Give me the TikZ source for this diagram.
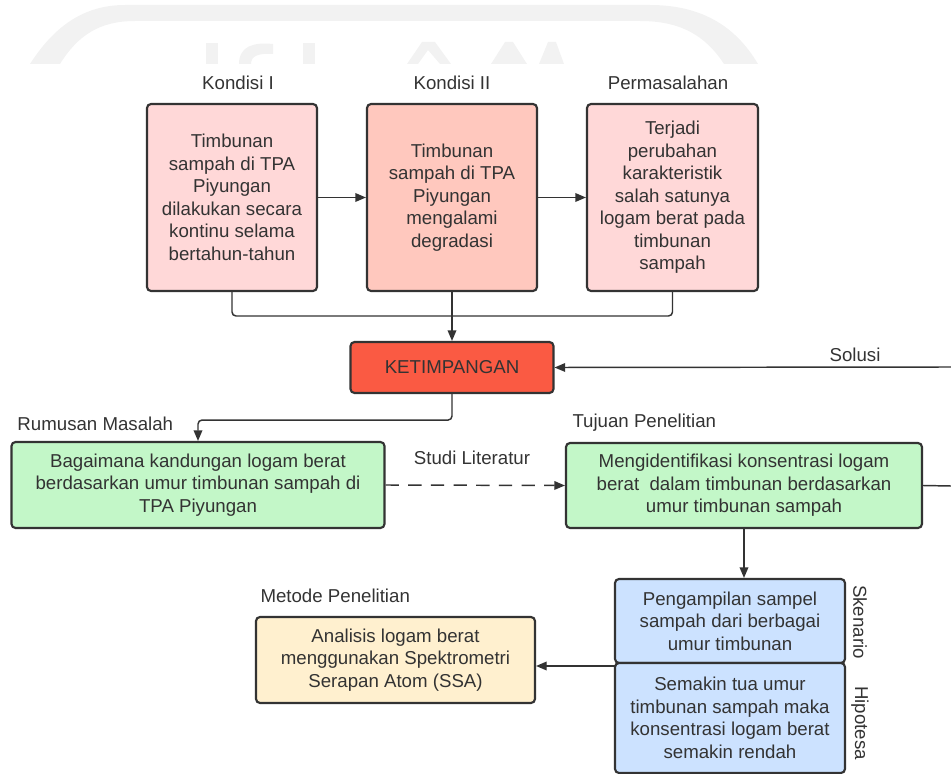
\documentclass[tikz,border=0pt]{standalone}
\usepackage{fontspec}
\setmainfont{Liberation Sans}
\usetikzlibrary{arrows.meta}

\definecolor{inkgrey}{HTML}{333333}
\definecolor{pinklight}{HTML}{FFD8D8}
\definecolor{salmon}{HTML}{FFC8BE}
\definecolor{redorange}{HTML}{FA5A43}
\definecolor{mintgreen}{HTML}{C3F7C8}
\definecolor{skyblue}{HTML}{CCE2FF}
\definecolor{cream}{HTML}{FFF0CF}
\definecolor{markgrey}{HTML}{F2F2F2}

\tikzset{every picture/.style={line width=0.75pt}}
\tikzset{
  boxnode/.style={draw=inkgrey, line width=1.6pt, rounded corners=3pt, align=center,
    inner sep=0pt, text=inkgrey, font=\fontsize{14}{16.9}\selectfont},
  labelnode/.style={inner sep=0.75pt, text=inkgrey, font=\fontsize{14}{16.9}\selectfont},
  linkline/.style={draw=inkgrey, line width=1.1pt, rounded corners=3pt},
  linkarrow/.style={linkline, -{Triangle[length=8pt,width=6.5pt]}},
}

\begin{document}
\begin{tikzpicture}[x=0.75pt,y=0.75pt,yscale=-1,xscale=1]
\useasboundingbox (0,0) rectangle (951,774);

%Watermark
\fill[markgrey] (30,64) .. controls (55,25) and (85,5) .. (125,5) -- (650,5)
  .. controls (700,5) and (735,25) .. (758,64) -- (724,64)
  .. controls (705,35) and (680,21) .. (640,21) -- (135,21)
  .. controls (100,21) and (78,35) .. (60,64) -- cycle;
\fill[markgrey] (206,43) rectangle (218,64);
\fill[markgrey] (239,64) .. controls (239,46) and (254,42) .. (273,44) -- (273,54)
  .. controls (258,53) and (251,56) .. (251,64) -- cycle;
\fill[markgrey] (303,43) rectangle (315,64);
\fill[markgrey] (407,64) -- (422,42) -- (435,42) -- (451,64) -- (440,64) -- (428,50) -- (418,64) -- cycle;
\fill[markgrey] (491,64) -- (505,42) -- (513,42) -- (527,64) -- cycle;
\fill[markgrey] (539,64) -- (548,42) -- (556,42) -- (564,64) -- cycle;

%Shape: Rectangle
\draw (232,197.5) node (kondisiA) [boxnode, fill=pinklight, minimum width=127.5pt, minimum height=140.25pt]
  {Timbunan\\sampah di TPA\\Piyungan\\dilakukan secara\\kontinu selama\\bertahun-tahun};
%Shape: Rectangle
\draw (452,197.5) node (kondisiB) [boxnode, fill=salmon, minimum width=127.5pt, minimum height=140.25pt]
  {Timbunan\\sampah di TPA\\Piyungan\\mengalami\\degradasi};
%Shape: Rectangle
\draw (672.5,197.5) node (masalah) [boxnode, fill=pinklight, minimum width=128.25pt, minimum height=140.25pt]
  {Terjadi\\perubahan\\karakteristik\\salah satunya\\logam berat pada\\timbunan\\sampah};
%Shape: Rectangle
\draw (452,367.5) node (ketimpangan) [boxnode, fill=redorange, minimum width=152.25pt, minimum height=38.25pt]
  {KETIMPANGAN};
%Shape: Rectangle
\draw (198,485) node (rumusan) [boxnode, fill=mintgreen, minimum width=279.75pt, minimum height=64.5pt]
  {Bagaimana kandungan logam berat\\berdasarkan umur timbunan sampah di\\TPA Piyungan};
%Shape: Rectangle
\draw (744,485.5) node (tujuan) [boxnode, fill=mintgreen, minimum width=267pt, minimum height=63.75pt]
  {Mengidentifikasi konsentrasi logam\\berat\ \ dalam timbunan berdasarkan\\umur timbunan sampah};
%Shape: Rectangle
\draw (730,621) node (skenario) [boxnode, fill=skyblue, minimum width=172.5pt, minimum height=63pt]
  {Pengampilan sampel\\sampah dari berbagai\\umur timbunan};
%Shape: Rectangle
\draw (730,718) node (hipotesa) [boxnode, fill=skyblue, minimum width=172.5pt, minimum height=82.5pt]
  {Semakin tua umur\\timbunan sampah maka\\konsentrasi logam berat\\semakin rendah};
%Shape: Rectangle
\draw (395.5,660) node (metode) [boxnode, fill=cream, minimum width=209.25pt, minimum height=64.5pt]
  {Analisis logam berat\\menggunakan Spektrometri\\Serapan Atom (SSA)};

% Text Node
\draw (238,83) node (kondisiAlbl) [labelnode] {Kondisi I};
% Text Node
\draw (452,83) node (kondisiBlbl) [labelnode] {Kondisi II};
% Text Node
\draw (668,83) node (masalahlbl) [labelnode] {Permasalahan};
% Text Node
\draw (855,355) node (solusilbl) [labelnode] {Solusi};
% Text Node
\draw (16,424) node (rumusanlbl) [labelnode, anchor=west] {Rumusan Masalah};
% Text Node
\draw (472,458) node (studilbl) [labelnode] {Studi Literatur};
% Text Node
\draw (571,423) node (tujuanlbl) [labelnode, anchor=west] {Tujuan Penelitian};
% Text Node
\draw (259,596) node (metodelbl) [labelnode, anchor=west] {Metode Penelitian};
% Text Node
\draw (860,622) node (skenariolbl) [labelnode, rotate=-90] {Skenario};
% Text Node
\draw (860,723) node (hipotesalbl) [labelnode, rotate=-90] {Hipotesa};

%Connectors
\coordinate (joinTop) at (452,316);
\coordinate (solusiEdge) at (951,367);
\coordinate (tujuanEdge) at (951,486);
\coordinate (splitPt) at (615,666);
\draw[linkarrow] (kondisiA.east) -- (kondisiB.west);
\draw[linkarrow] (kondisiB.east) -- (masalah.west);
\draw[linkline] (kondisiA.south) |- (joinTop);
\draw[linkline] (masalah.south) |- (joinTop);
\draw[linkarrow] (kondisiB.south) -- (ketimpangan.north);
\draw[linkarrow] (ketimpangan.south) -- ++(0,26) -| (rumusan.north);
\draw[linkarrow, dash pattern=on 10pt off 7pt] (rumusan.east) -- (tujuan.west);
\draw[linkline] (tujuan.east) -- (tujuanEdge);
\draw[linkarrow] (solusiEdge) -- (ketimpangan.east);
\draw[linkarrow] (tujuan.south) -- (tujuan.south |- skenario.north);
\draw[linkarrow] (splitPt) -- (splitPt -| metode.east);

\end{tikzpicture}
\end{document}
